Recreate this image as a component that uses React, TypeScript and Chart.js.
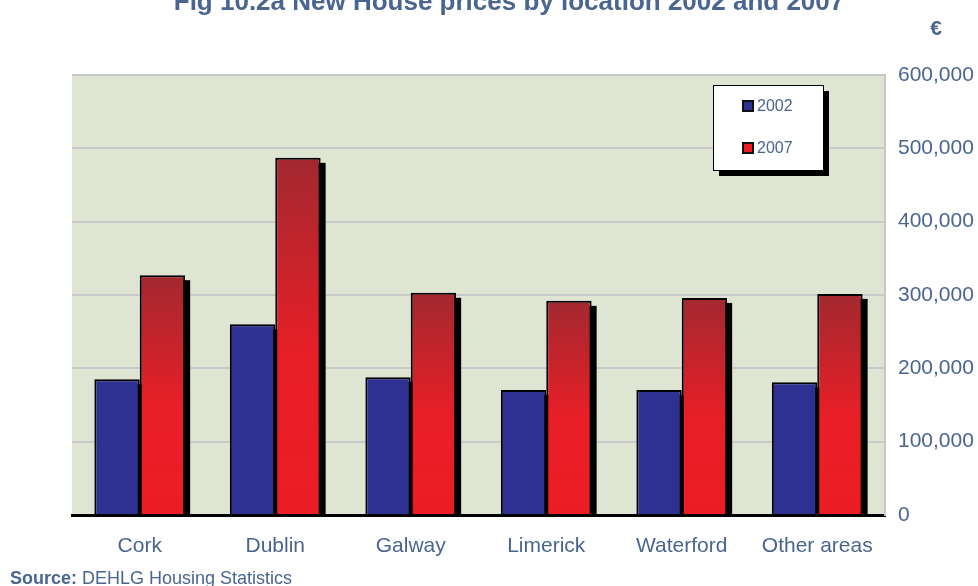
import React, { useEffect, useRef } from "react";
import { Chart } from "chart.js/auto";

const categories = ["Cork", "Dublin", "Galway", "Limerick", "Waterford", "Other areas"];
const series2002 = [185000, 260000, 188000, 170500, 170500, 181000];
const series2007 = [327000, 487000, 303000, 292000, 296000, 301500];
const seriesLabels = ["2002", "2007"];
const yTicks = [0, 100000, 200000, 300000, 400000, 500000, 600000];

const FONT = "Arial, 'Liberation Sans', sans-serif";
const TEXT = "#4a6590";
const BLUE = "#2e3192";
const RED_DARK = "#a3282f";
const RED = "#ec1c24";

const bgPlugin = {
  id: "bgPlugin",
  beforeDraw(chart: any) {
    const { ctx, chartArea } = chart;
    ctx.save();
    ctx.fillStyle = "#dee5d3";
    ctx.fillRect(chartArea.left, chartArea.top, chartArea.right - chartArea.left, chartArea.bottom - chartArea.top);
    ctx.restore();
  },
};

const shadowPlugin = {
  id: "shadowPlugin",
  beforeDatasetsDraw(chart: any) {
    const { ctx } = chart;
    ctx.save();
    ctx.fillStyle = "#000";
    chart.data.datasets.forEach((_: any, i: number) => {
      const meta = chart.getDatasetMeta(i);
      meta.data.forEach((bar: any) => {
        const w = bar.width;
        ctx.fillRect(bar.x - w / 2 + 5, bar.y + 5, w, bar.base - bar.y - 5);
      });
    });
    ctx.restore();
  },
};

const textPlugin = {
  id: "textPlugin",
  afterDraw(chart: any) {
    const { ctx } = chart;
    ctx.save();
    ctx.fillStyle = TEXT;
    ctx.font = `bold 26px ${FONT}`;
    ctx.textAlign = "center";
    ctx.textBaseline = "alphabetic";
    ctx.fillText("Fig 10.2a New House prices by location 2002 and 2007", 509, 10);
    ctx.font = `bold 21px ${FONT}`;
    ctx.fillText("€", 936, 35);
    ctx.textAlign = "left";
    ctx.font = `bold 18px ${FONT}`;
    ctx.fillText("Source:", 10, 584);
    const w = ctx.measureText("Source: ").width;
    ctx.font = `18px ${FONT}`;
    ctx.fillText("DEHLG Housing Statistics", 10 + w, 584);

    const bx = 713, by = 85, bw = 110, bh = 85;
    ctx.fillStyle = "#000";
    ctx.fillRect(bx + 6, by + 6, bw, bh);
    ctx.fillStyle = "#fff";
    ctx.fillRect(bx, by, bw, bh);
    ctx.strokeStyle = "#000";
    ctx.lineWidth = 1;
    ctx.strokeRect(bx + 0.5, by + 0.5, bw, bh);
    const items = [
      { label: seriesLabels[0], color: BLUE, y: 106 },
      { label: seriesLabels[1], color: RED, y: 148 },
    ];
    items.forEach((it) => {
      ctx.fillStyle = "#111";
      ctx.fillRect(742, it.y - 6, 12, 12);
      ctx.fillStyle = it.color;
      ctx.fillRect(744, it.y - 4, 8, 8);
      ctx.fillStyle = TEXT;
      ctx.font = `16px ${FONT}`;
      ctx.textAlign = "left";
      ctx.textBaseline = "middle";
      ctx.fillText(it.label, 757, it.y + 1);
    });
    ctx.restore();
  },
};

export default function App() {
  const ref = useRef<HTMLCanvasElement>(null);
  useEffect(() => {
    document.body.style.margin = "0";
    const redGradient = (c: any) => {
      const chart = c.chart;
      if (!chart.chartArea || c.type !== "data") return RED;
      const y = chart.scales.y;
      const top = y.getPixelForValue(c.raw as number);
      const bottom = y.getPixelForValue(0);
      const g = chart.ctx.createLinearGradient(0, top, 0, bottom);
      g.addColorStop(0, RED_DARK);
      g.addColorStop(0.55, "#e81f27");
      g.addColorStop(1, RED);
      return g;
    };
    const chart = new Chart(ref.current!, {
      type: "bar",
      data: {
        labels: categories,
        datasets: [
          {
            label: seriesLabels[0],
            data: series2002,
            backgroundColor: BLUE,
            borderColor: "#000",
            borderWidth: 2,
            categoryPercentage: 0.67,
            barPercentage: 1,
          },
          {
            label: seriesLabels[1],
            data: series2007,
            backgroundColor: redGradient,
            borderColor: "#000",
            borderWidth: 2,
            categoryPercentage: 0.67,
            barPercentage: 1,
          },
        ],
      },
      options: {
        responsive: false,
        animation: false,
        layout: { padding: { left: 72, top: 75, right: 0, bottom: 0 } },
        plugins: { legend: { display: false }, tooltip: { enabled: false }, title: { display: false } },
        scales: {
          x: {
            grid: { display: false },
            border: { display: true, color: "#000", width: 3 },
            ticks: { color: TEXT, font: { family: FONT, size: 21 }, padding: 11, maxRotation: 0 },
            afterFit: (s: any) => { s.height = 71; },
          },
          y: {
            position: "right",
            min: 0,
            max: 600000,
            afterBuildTicks: (s: any) => { s.ticks = yTicks.map((v) => ({ value: v })); },
            grid: { color: "#c8c8c8", lineWidth: 2, drawTicks: false },
            border: { display: true, color: "#c8c8c8", width: 2 },
            ticks: {
              color: TEXT,
              font: { family: FONT, size: 21 },
              padding: 13,
              callback: (v: any) => Number(v).toLocaleString("en-US"),
            },
            afterFit: (s: any) => { s.width = 93; },
          },
        },
      },
      plugins: [bgPlugin, shadowPlugin, textPlugin],
    });
    return () => chart.destroy();
  }, []);
  return <canvas ref={ref} width={978} height={586} style={{ display: "block" }} />;
}
